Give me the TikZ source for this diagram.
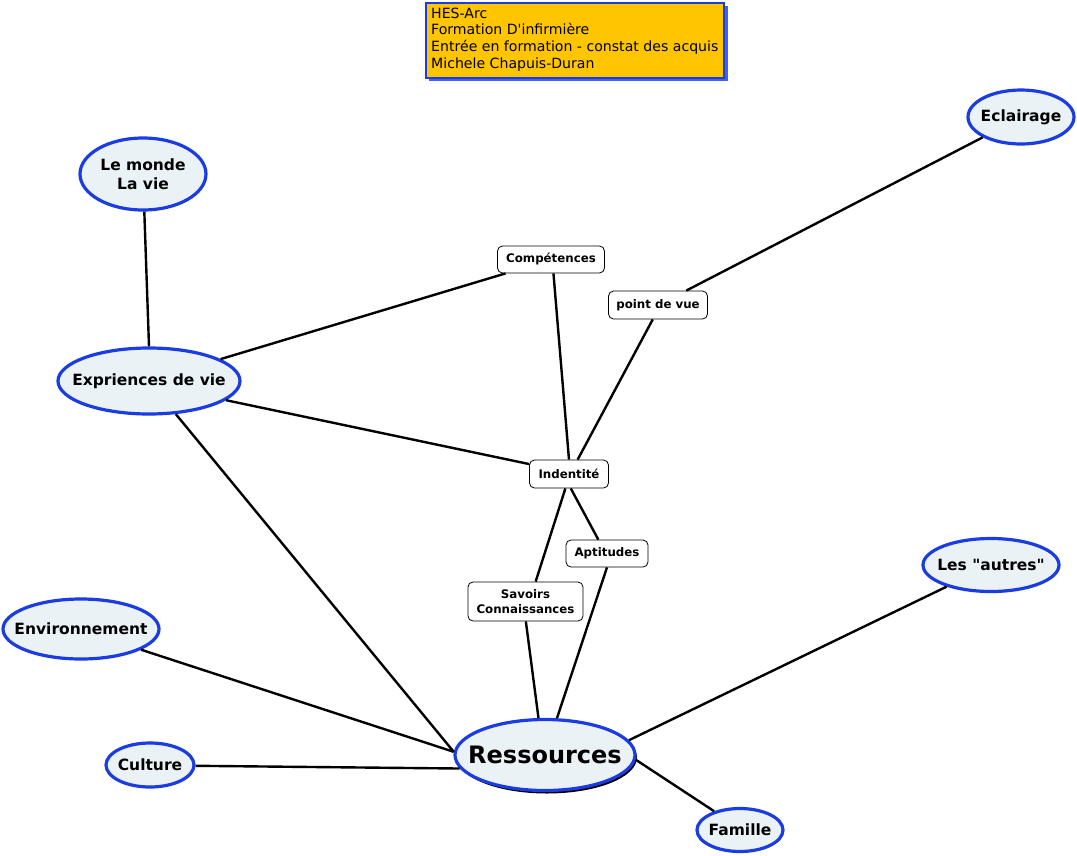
\documentclass[tikz,border=0pt]{standalone}
\usepackage{fontspec}
\setmainfont{DejaVu Sans}
\usetikzlibrary{shapes.geometric}
\definecolor{ringblue}{HTML}{1A3CE0}
\definecolor{shadeblue}{HTML}{3F63F0}
\definecolor{ellfill}{HTML}{EAF2F5}
\definecolor{gold}{HTML}{FFC600}
\tikzset{
  bubble/.style={ellipse, draw=ringblue, line width=3.2pt, fill=ellfill, inner sep=0pt},
  bubtext/.style={inner sep=0pt, font=\fontsize{15.5}{18.5}\selectfont\bfseries, align=center},
  tag/.style={rectangle, rounded corners=5pt, draw=black, line width=0.8pt, fill=white,
    inner sep=0pt, font=\fontsize{11.8}{14}\selectfont\bfseries, align=center},
  link/.style={line width=2.4pt, black},
}
\begin{document}
\begin{tikzpicture}[x=1pt,y=-1pt]
\useasboundingbox (0,0) rectangle (1077,855);
% header
\fill[shadeblue] (429,6) rectangle (728,81);
\node[draw=ringblue, line width=2pt, fill=gold, minimum width=298pt, minimum height=75pt, anchor=north west, inner sep=0pt] (hdr) at (425,2) {};
\node[anchor=north west, align=left, inner sep=0pt, font=\fontsize{14.1}{16.8}\selectfont] (hdrtext) at (431,7.5) {HES-Arc\\Formation D\textquotesingle infirmière\\Entrée en formation - constat des acquis\\Michele Chapuis-Duran};
% bubbles
\node[bubble, minimum width=106pt, minimum height=54pt] (ecl) at (1021,117) {};
\node[bubtext] (eclt) at (ecl) {Eclairage};
\node[bubble, minimum width=126pt, minimum height=72pt] (monde) at (143,174) {};
\node[bubtext] (mondet) at (monde) {Le monde\\La vie};
\node[bubble, minimum width=182pt, minimum height=66pt] (exp) at (149,381) {};
\node[bubtext] (expt) at (exp) {Expriences de vie};
\node[bubble, minimum width=156pt, minimum height=60pt] (env) at (81,629) {};
\node[bubtext] (envt) at (env) {Environnement};
\node[bubble, minimum width=88pt, minimum height=44pt] (cult) at (150,765) {};
\node[bubtext] (cultt) at (cult) {Culture};
\node[bubble, minimum width=86pt, minimum height=43pt] (fam) at (740,830) {};
\node[bubtext] (famt) at (fam) {Famille};
\node[bubble, minimum width=136pt, minimum height=53pt] (autres) at (991,565) {};
\node[bubtext] (autrest) at (autres) {Les \textquotedbl autres\textquotedbl};
\fill[black] (547,757.5) ellipse (90pt and 36pt);
\node[bubble, minimum width=180pt, minimum height=71pt] (res) at (545,755) {};
\node[bubtext, font=\fontsize{24}{28}\selectfont\bfseries] (rest) at (res) {Ressources};
% tags
\node[tag, minimum width=107pt, minimum height=27pt] (comp) at (551,259.5) {Compétences};
\node[tag, minimum width=99pt, minimum height=28pt] (pdv) at (658,305) {point de vue};
\node[tag, minimum width=79pt, minimum height=28pt] (ident) at (569,474) {Indentité};
\node[tag, minimum width=82pt, minimum height=27pt] (apt) at (607,553.5) {Aptitudes};
\node[tag, minimum width=115pt, minimum height=39pt, font=\fontsize{11.8}{15}\selectfont\bfseries] (sav) at (525.5,601.5) {Savoirs\\Connaissances};
% links
\draw[link] (monde.-88) -- (exp.90);
\draw[link] (exp.17) -- (comp.197);
\draw[link] (exp.-14) -- (ident.166);
\draw[link] (comp.-80) -- (ident.90);
\draw[link] (ident.59) -- (pdv.-110);
\draw[link] (pdv.27) -- (ecl.208);
\draw[link] (ident.-104) -- (sav.63);
\draw[link] (ident.-83) -- (apt.122);
\draw[link] (sav.-89) -- (res.100);
\draw[link] (apt.-90) -- (res.72);
\draw[link] (exp.-51) -- (res.178);
\draw[link] (env.-19) -- (res.178);
\draw[link] (cult.-1) -- (res.189);
\draw[link] (autres.206) -- (res.10);
\draw[link] (res.-3) -- (fam.144);
\end{tikzpicture}
\end{document}
